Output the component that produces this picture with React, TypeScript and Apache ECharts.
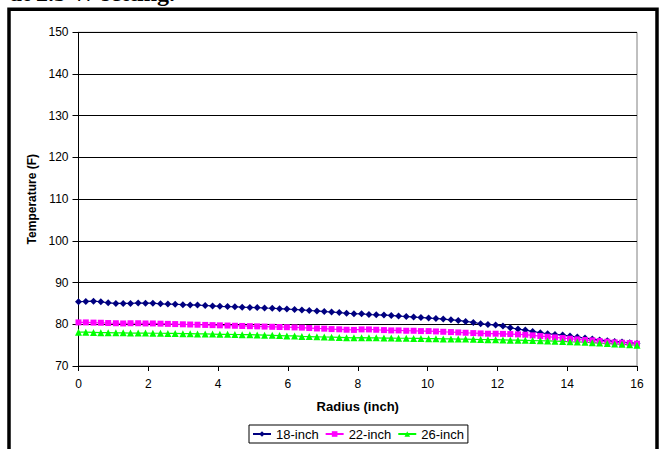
import React, { useEffect, useRef } from "react";
import * as echarts from "echarts";

const titleText = "at 2.5 W setting.";
const xAxisName = "Radius (inch)";
const yAxisName = "Temperature (F)";
const seriesNames = ["18-inch", "22-inch", "26-inch"];

const radius = [
  0.0, 0.21, 0.43, 0.64, 0.85, 1.07, 1.28, 1.49, 1.71, 1.92,
  2.13, 2.35, 2.56, 2.77, 2.99, 3.2, 3.41, 3.63, 3.84, 4.05,
  4.27, 4.48, 4.69, 4.91, 5.12, 5.33, 5.55, 5.76, 5.97, 6.19,
  6.4, 6.61, 6.83, 7.04, 7.25, 7.47, 7.68, 7.89, 8.11, 8.32,
  8.53, 8.75, 8.96, 9.17, 9.39, 9.6, 9.81, 10.03, 10.24, 10.45,
  10.67, 10.88, 11.09, 11.31, 11.52, 11.73, 11.95, 12.16, 12.37, 12.59,
  12.8, 13.01, 13.23, 13.44, 13.65, 13.87, 14.08, 14.29, 14.51, 14.72,
  14.93, 15.15, 15.36, 15.57, 15.79, 16.0,
];

const temp18 = [
  85.4, 85.47, 85.55, 85.4, 85.15, 85.0, 85.0, 85.0, 85.1, 85.05,
  85.05, 84.9, 84.85, 84.8, 84.7, 84.65, 84.6, 84.5, 84.4, 84.3,
  84.25, 84.2, 84.1, 84.05, 84.0, 83.9, 83.85, 83.75, 83.65, 83.55,
  83.45, 83.3, 83.2, 83.05, 82.95, 82.8, 82.65, 82.55, 82.5, 82.35,
  82.28, 82.2, 82.12, 81.96, 81.88, 81.72, 81.64, 81.48, 81.4, 81.24,
  81.08, 80.93, 80.69, 80.45, 80.13, 79.97, 79.8, 79.57, 79.17, 78.85,
  78.61, 78.29, 77.97, 77.73, 77.58, 77.42, 77.18, 76.94, 76.7, 76.46,
  76.22, 76.06, 75.9, 75.74, 75.58, 75.42,
];

const temp22 = [
  80.45, 80.45, 80.4, 80.37, 80.3, 80.25, 80.2, 80.25, 80.25, 80.2,
  80.2, 80.15, 80.1, 80.05, 80.0, 79.95, 79.9, 79.85, 79.8, 79.75,
  79.7, 79.65, 79.6, 79.55, 79.5, 79.45, 79.4, 79.35, 79.3, 79.25,
  79.2, 79.1, 79.0, 78.95, 78.85, 78.8, 78.7, 78.65, 78.77, 78.77,
  78.69, 78.61, 78.53, 78.53, 78.45, 78.45, 78.37, 78.37, 78.29, 78.21,
  78.13, 78.05, 77.97, 77.89, 77.82, 77.74, 77.74, 77.7, 77.66, 77.58,
  77.5, 77.34, 77.18, 77.02, 76.86, 76.7, 76.54, 76.38, 76.22, 76.14,
  75.98, 75.82, 75.66, 75.58, 75.5, 75.34,
];

const temp26 = [
  78.1, 78.1, 78.05, 78.0, 78.0, 77.95, 77.95, 77.9, 77.9, 77.9,
  77.85, 77.85, 77.8, 77.8, 77.75, 77.75, 77.7, 77.7, 77.65, 77.6,
  77.6, 77.55, 77.5, 77.5, 77.45, 77.4, 77.35, 77.3, 77.2, 77.2,
  77.1, 77.05, 77.0, 76.95, 76.9, 76.85, 76.8, 76.75, 76.8, 76.75,
  76.75, 76.7, 76.7, 76.65, 76.65, 76.6, 76.6, 76.55, 76.55, 76.5,
  76.5, 76.45, 76.45, 76.4, 76.35, 76.3, 76.3, 76.25, 76.2, 76.2,
  76.15, 76.1, 76.05, 76.0, 75.95, 75.9, 75.8, 75.75, 75.7, 75.6,
  75.5, 75.4, 75.3, 75.2, 75.1, 75.0,
];

const pairs = (ys: number[]) => radius.map((r, i) => [r, ys[i]]);

const FONT = "'Liberation Sans', Arial, sans-serif";

export default function App() {
  const ref = useRef<HTMLDivElement>(null);
  useEffect(() => {
    if (!ref.current) return;
    const chart = echarts.init(ref.current, null, { renderer: "svg" });
    const colors = ["#000080", "#FF00FF", "#00FF00"];
    const symbols = ["diamond", "rect", "triangle"];
    const sizes = [7, 6, 7];
    const data = [temp18, temp22, temp26];
    chart.setOption({
      animation: false,
      backgroundColor: "#ffffff",
      textStyle: { fontFamily: FONT },
      grid: {
        left: 78.5,
        right: 24,
        top: 32.3,
        bottom: 83,
        show: true,
        borderColor: "#808080",
        borderWidth: 1,
      },
      xAxis: {
        type: "value",
        min: 0,
        max: 16,
        interval: 2,
        name: xAxisName,
        nameLocation: "middle",
        nameGap: 34,
        nameTextStyle: { fontFamily: FONT, fontWeight: "bold", fontSize: 13, color: "#000" },
        axisLine: { show: true, lineStyle: { color: "#000", width: 1 } },
        axisTick: { show: true, inside: false, length: 5, lineStyle: { color: "#000" } },
        axisLabel: { fontFamily: FONT, fontSize: 12, color: "#000", margin: 12 },
        splitLine: { show: false },
      },
      yAxis: {
        type: "value",
        min: 70,
        max: 150,
        interval: 10,
        name: yAxisName,
        nameLocation: "middle",
        nameGap: 40,
        nameRotate: 90,
        nameTextStyle: { fontFamily: FONT, fontWeight: "bold", fontSize: 12, color: "#000" },
        axisLine: { show: true, lineStyle: { color: "#000", width: 1 } },
        axisTick: { show: true, inside: false, length: 6, lineStyle: { color: "#000" } },
        axisLabel: { fontFamily: FONT, fontSize: 12, color: "#000", margin: 10 },
        splitLine: { show: true, lineStyle: { color: "#000", width: 1 } },
      },
      legend: {
        left: 249,
        top: 425,
        orient: "horizontal",
        itemWidth: 18,
        itemHeight: 7,
        itemGap: 6,
        padding: [2.5, 4, 2.5, 3],
        borderColor: "#000",
        borderWidth: 1,
        textStyle: { fontFamily: FONT, fontSize: 13, color: "#000" },
        data: seriesNames,
      },
      series: seriesNames.map((name, k) => ({
        name,
        type: "line",
        data: pairs(data[k]),
        symbol: symbols[k],
        symbolSize: sizes[k],
        showSymbol: true,
        itemStyle: { color: colors[k] },
        lineStyle: { color: colors[k], width: 1.2 },
      })),
      graphic: [
        {
          type: "rect",
          shape: { x: 9, y: 9.3, width: 648, height: 460 },
          style: { fill: "none", stroke: "#000", lineWidth: 3.5 },
          silent: true,
        },
        {
          type: "text",
          x: 10,
          y: -6.6,
          style: {
            text: titleText,
            font: "bold 24px 'Liberation Serif', 'Times New Roman', serif",
            fill: "#000",
            verticalAlign: "middle",
            align: "left",
          },
        },
      ],
    });
    return () => chart.dispose();
  }, []);
  return (
    <div
      ref={ref}
      style={{ position: "fixed", left: 0, top: 0, width: 661, height: 449 }}
    />
  );
}
